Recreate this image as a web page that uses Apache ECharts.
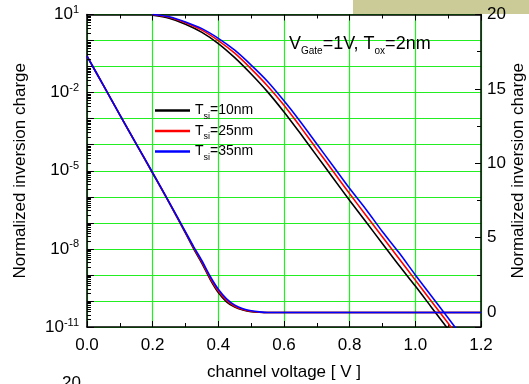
<!DOCTYPE html>
<html>
<head>
<meta charset="utf-8">
<script src="https://cdn.jsdelivr.net/npm/echarts@6/dist/echarts.min.js"></script>
<style>
  html, body { margin: 0; padding: 0; background: #ffffff; }
  #chart { width: 529px; height: 384px; }
</style>
</head>
<body>
<div id="chart"></div>
<script>
const FONT = 'Arial, "Liberation Sans", Helvetica, sans-serif';

// Silicon film thicknesses (legend entries)
const thickness = ['10nm', '25nm', '35nm'];
const colors = ['#000000', '#ff0000', '#0000ff'];

// Channel voltage samples (V) for the log-scale curves
const voltLog = [0, 0.05, 0.1, 0.15, 0.2, 0.25, 0.3, 0.325, 0.35, 0.375, 0.4, 0.425,
                 0.45, 0.475, 0.5, 0.525, 0.55, 0.6, 0.8, 1.0, 1.2];
// Normalized inversion charge, left (log) axis
const logCharge10 = [2.5e-1, 1.9e-2, 1.4e-3, 1.05e-4, 8.0e-6, 6.0e-7, 4.0e-8, 1.0e-8, 2.8e-9, 6.8e-10,
                     2.1e-10, 9.3e-11, 5.8e-11, 4.5e-11, 3.9e-11, 3.7e-11, 3.6e-11, 3.6e-11, 3.6e-11, 3.6e-11, 3.6e-11];
const logCharge25 = [2.5e-1, 1.9e-2, 1.4e-3, 1.07e-4, 8.3e-6, 6.2e-7, 4.3e-8, 1.1e-8, 3.1e-9, 7.6e-10,
                     2.4e-10, 1.05e-10, 6.3e-11, 4.7e-11, 4.0e-11, 3.7e-11, 3.6e-11, 3.6e-11, 3.6e-11, 3.6e-11, 3.6e-11];
const logCharge35 = [2.5e-1, 1.9e-2, 1.4e-3, 1.08e-4, 8.5e-6, 6.3e-7, 4.5e-8, 1.2e-8, 3.5e-9, 8.9e-10,
                     2.8e-10, 1.2e-10, 6.9e-11, 5.0e-11, 4.2e-11, 3.8e-11, 3.6e-11, 3.6e-11, 3.6e-11, 3.6e-11, 3.6e-11];

// Channel voltage samples (V) for the linear-scale curves
const voltLin = [0.2, 0.25, 0.3, 0.35, 0.4, 0.45, 0.5, 0.55, 0.6, 0.65, 0.7, 0.75, 0.8, 0.85,
                 0.9, 0.95, 1.0, 1.05, 1.1, 1.15];
// Normalized inversion charge, right (linear) axis
const linCharge10 = [19.95, 19.75, 19.35, 18.8, 18.05, 17.1, 16.0, 14.8, 13.45, 12.0, 10.5, 9.0, 7.5, 6.05,
                     4.6, 3.15, 1.75, 0.3, -1.15, -2.6];
const linCharge25 = [20.0, 19.82, 19.45, 18.95, 18.25, 17.4, 16.35, 15.2, 13.9, 12.45, 10.95, 9.45, 7.95, 6.5,
                     5.05, 3.6, 2.15, 0.7, -0.75, -2.2];
const linCharge35 = [20.0, 19.85, 19.5, 19.05, 18.4, 17.6, 16.6, 15.5, 14.2, 12.8, 11.3, 9.8, 8.3, 6.9,
                     5.4, 4.0, 2.5, 1.05, -0.4, -1.85];

const logSets = [logCharge10, logCharge25, logCharge35];
const linSets = [linCharge10, linCharge25, linCharge35];

// Axis ranges
const xMin = 0, xMax = 1.2, xStep = 0.2;
const logMin = 1e-11, logMax = 10;
const linMin = -1, linMax = 20;

// Minor ticks of the log axis (2..9 within every decade)
const logMinorTicks = [];
for (let e = -11; e < 1; e++) {
  for (let m = 2; m <= 9; m++) logMinorTicks.push([xMin, m * Math.pow(10, e)]);
}

const pair = (xs, ys) => xs.map((x, i) => [x, ys[i]]);

const series = [];
thickness.forEach((t, i) => {
  series.push({
    name: t, type: 'line', xAxisIndex: 0, yAxisIndex: 0,
    data: pair(voltLog, logSets[i]),
    symbol: 'none', showSymbol: false, smooth: 0.3,
    lineStyle: { color: colors[i], width: 1.6 }, itemStyle: { color: colors[i] },
    z: 3 + i
  });
});
thickness.forEach((t, i) => {
  series.push({
    name: t, type: 'line', xAxisIndex: 0, yAxisIndex: 1,
    data: pair(voltLin, linSets[i]),
    symbol: 'none', showSymbol: false, smooth: 0.3, clip: true,
    lineStyle: { color: colors[i], width: 1.6 }, itemStyle: { color: colors[i] },
    z: 3 + i
  });
});
series.push({
  type: 'custom', xAxisIndex: 0, yAxisIndex: 0, silent: true, clip: false, z: 8,
  data: logMinorTicks,
  renderItem: function (params, api) {
    const p = api.coord([api.value(0), api.value(1)]);
    return {
      type: 'line',
      shape: { x1: p[0], y1: Math.round(p[1]) + 0.5, x2: p[0] + 4, y2: Math.round(p[1]) + 0.5 },
      style: { stroke: '#000', lineWidth: 1 }
    };
  }
});

const tickFont = { fontFamily: FONT, fontSize: 17, color: '#000' };

const chart = echarts.init(document.getElementById('chart'), null, { renderer: 'canvas' });
chart.setOption({
  animation: false,
  backgroundColor: '#ffffff',
  textStyle: { fontFamily: FONT },
  grid: { left: 87, right: 48, top: 14.5, bottom: 57, containLabel: false, outerBoundsMode: 'none' },
  legend: {
    data: thickness,
    orient: 'vertical',
    left: 150, top: 98.5,
    icon: 'rect',
    itemWidth: 35, itemHeight: 2.5, itemGap: 3,
    selectedMode: false,
    formatter: name => '{t|T}{s|si}{t|=' + name + '}',
    textStyle: {
      fontFamily: FONT, color: '#000',
      rich: {
        t: { fontFamily: FONT, fontSize: 14, lineHeight: 21, color: '#000' },
        s: { fontFamily: FONT, fontSize: 9, lineHeight: 9, verticalAlign: 'bottom', color: '#000' }
      }
    }
  },
  xAxis: [
    {
      type: 'value', position: 'bottom', min: xMin, max: xMax, interval: xStep,
      name: 'channel voltage [ V ]', nameLocation: 'middle', nameGap: 37,
      nameTextStyle: { fontFamily: FONT, fontSize: 17, color: '#000' },
      axisLine: { show: true, onZero: false, lineStyle: { color: '#000', width: 1.5 } },
      axisTick: { show: true, inside: true, length: 6, lineStyle: { color: '#000', width: 1 } },
      minorTick: { show: true, splitNumber: 2, length: 4, lineStyle: { color: '#000', width: 1 } },
      axisLabel: Object.assign({ margin: 10, formatter: v => v.toFixed(1) }, tickFont),
      splitLine: { show: true, lineStyle: { color: '#22ee22', width: 1.2 } }
    },
    {
      type: 'value', position: 'top', min: xMin, max: xMax, interval: xStep,
      axisLine: { show: true, onZero: false, lineStyle: { color: '#000', width: 1.5 } },
      axisTick: { show: true, inside: true, length: 6, lineStyle: { color: '#000', width: 1 } },
      minorTick: { show: true, splitNumber: 2, length: 4, lineStyle: { color: '#000', width: 1 } },
      axisLabel: { show: false },
      splitLine: { show: false }
    }
  ],
  yAxis: [
    {
      type: 'log', logBase: 10, position: 'left', min: logMin, max: logMax, interval: 1,
      name: 'Normalized inversion charge', nameLocation: 'middle', nameGap: 58, nameRotate: 90,
      nameTextStyle: { fontFamily: FONT, fontSize: 17, color: '#000' },
      axisLine: { show: true, onZero: false, lineStyle: { color: '#000', width: 1.5 } },
      axisTick: { show: true, inside: true, length: 7, lineStyle: { color: '#000', width: 1 } },
      axisLabel: {
        margin: 8,
        formatter: function (v) {
          const e = Math.round(Math.log10(v));
          if ((e + 11) % 3 !== 0) return '';
          return '{b|10}{p|' + e + '}';
        },
        rich: {
          b: { fontFamily: FONT, fontSize: 17, lineHeight: 20, color: '#000' },
          p: { fontFamily: FONT, fontSize: 11, lineHeight: 14, verticalAlign: 'top', color: '#000' }
        }
      },
      splitLine: { show: true, lineStyle: { color: '#22ee22', width: 1.2 } }
    },
    {
      type: 'value', position: 'right', min: linMin, max: linMax, splitNumber: 5,
      name: 'Normalized inversion charge', nameLocation: 'middle', nameGap: 29, nameRotate: 90,
      nameMoveOverlap: false,
      nameTextStyle: { fontFamily: FONT, fontSize: 17, color: '#000' },
      axisLine: { show: true, onZero: false, lineStyle: { color: '#000', width: 1.5 } },
      axisTick: { show: true, inside: true, length: 6, lineStyle: { color: '#000', width: 1 } },
      minorTick: { show: true, splitNumber: 2, length: 4, lineStyle: { color: '#000', width: 1 } },
      axisLabel: Object.assign({ margin: 6, formatter: v => (v < 0 ? '' : String(v)) }, tickFont),
      splitLine: { show: false }
    }
  ],
  graphic: [
    {
      type: 'rect', left: 353, top: 0, z: -10, silent: true,
      shape: { width: 176, height: 14 },
      style: { fill: '#cbcb98' }
    },
    {
      type: 'text', left: 289, top: 35, z: 20, silent: true,
      style: {
        text: '{t|V}{s|Gate}{t|=1V, T}{s|ox}{t|=2nm}',
        rich: {
          t: { fontFamily: FONT, fontSize: 18, lineHeight: 24, fill: '#000' },
          s: { fontFamily: FONT, fontSize: 10, lineHeight: 10, verticalAlign: 'bottom', fill: '#000' }
        }
      }
    },
    {
      type: 'text', left: 62, top: 375, z: 20, silent: true,
      style: { text: '20', fontFamily: FONT, fontSize: 17, fill: '#000' }
    }
  ],
  series: series
});
</script>
</body>
</html>
